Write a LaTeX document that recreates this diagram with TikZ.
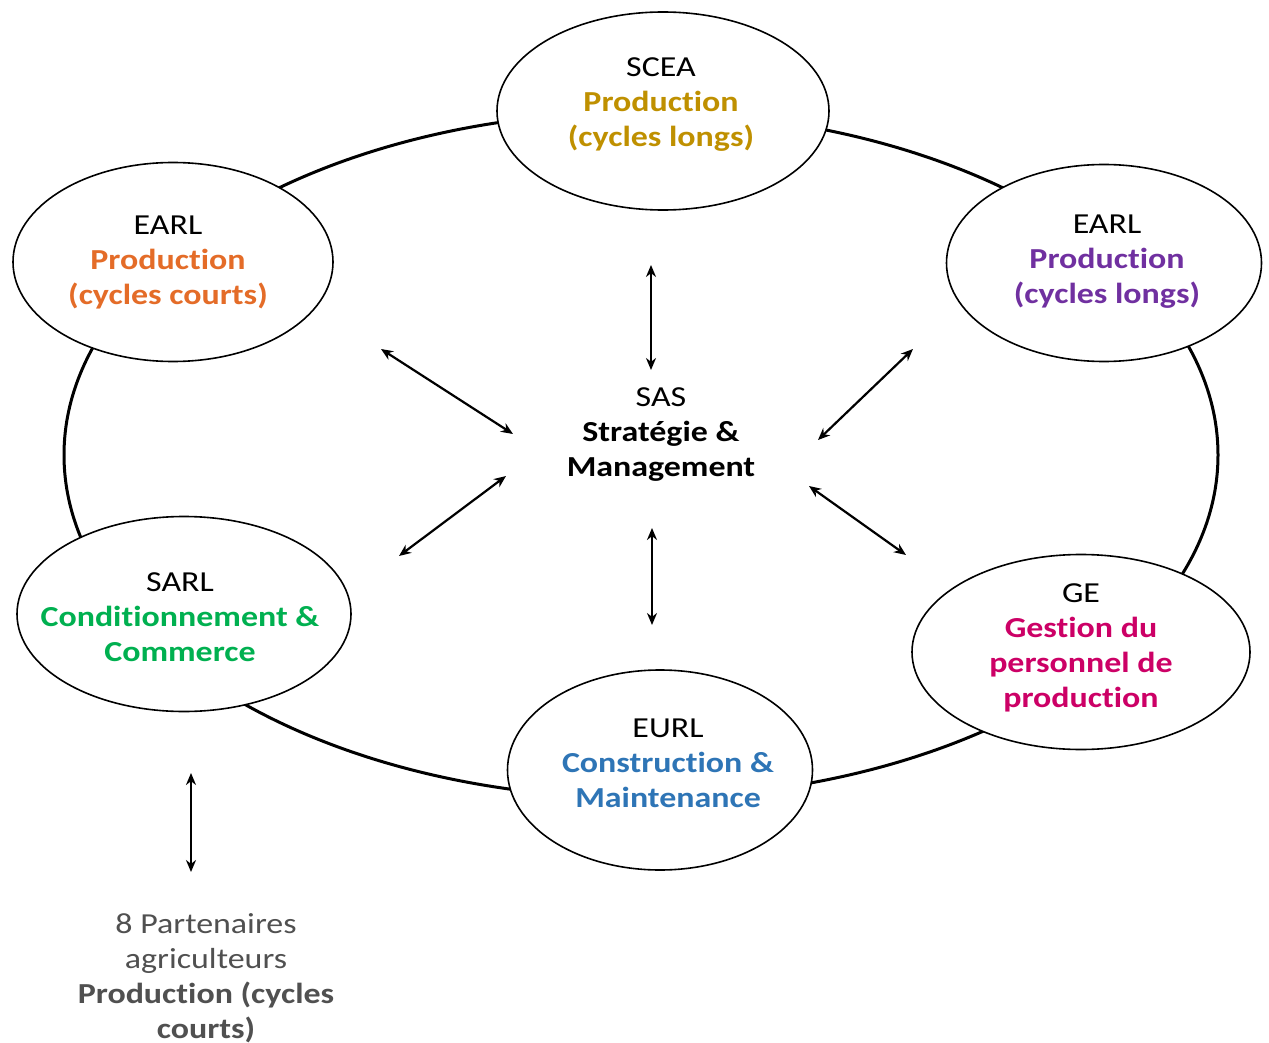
\documentclass[tikz,border=0pt]{standalone}
\usepackage{fontspec}
\setmainfont[Ligatures={NoCommon}]{Carlito}
\usetikzlibrary{shapes.geometric,arrows.meta}
\definecolor{cgold}{RGB}{191,144,0}
\definecolor{corange}{RGB}{228,108,40}
\definecolor{cpurple}{RGB}{112,48,160}
\definecolor{cgreen}{RGB}{0,176,80}
\definecolor{cblue}{RGB}{46,117,182}
\definecolor{cmag}{RGB}{204,0,102}
\definecolor{cgray}{RGB}{80,80,80}
\begin{document}
\begin{tikzpicture}[x=1pt,y=-1pt,
  ent/.style={ellipse,draw=black,line width=1.6pt,fill=white,inner sep=0pt},
  lbl/.style={align=center,font=\fontsize{29}{35}\selectfont,inner sep=0pt,xscale=1.17,transform shape},
  dbl/.style={line width=2.2pt,{Stealth[length=12pt,width=10pt]}-{Stealth[length=12pt,width=10pt]}}]
\useasboundingbox (0,0) rectangle (1269,1043);
\fill[white] (0,0) rectangle (1269,1043);
\node[ellipse,draw=black,line width=3pt,minimum width=1154pt,minimum height=686pt,inner sep=0pt] (ring) at (641,455) {};
\node[ent,minimum width=332pt,minimum height=198pt] (scea) at (663,111) {};
\node[ent,minimum width=320pt,minimum height=199pt] (earll) at (173,262) {};
\node[ent,minimum width=315pt,minimum height=197pt] (earlr) at (1104,263) {};
\node[ent,minimum width=334pt,minimum height=195pt] (sarl) at (184,614) {};
\node[ent,minimum width=305pt,minimum height=200pt] (eurl) at (660,770) {};
\node[ent,minimum width=338pt,minimum height=195pt] (ge) at (1081,652) {};
\node[lbl] (tscea) at (661,105) {SCEA\\\textcolor{cgold}{\textbf{Production}}\\\textcolor{cgold}{\textbf{(cycles longs)}}};
\node[lbl] (tearll) at (168,262) {EARL\\\textcolor{corange}{\textbf{Production}}\\\textcolor{corange}{\textbf{(cycles courts)}}};
\node[lbl] (tearlr) at (1107,262) {EARL\\\textcolor{cpurple}{\textbf{Production}}\\\textcolor{cpurple}{\textbf{(cycles longs)}}};
\node[lbl] (tsas) at (661,435) {SAS\\\textbf{Stratégie \&}\\\textbf{Management}};
\node[lbl] (tsarl) at (180,617) {SARL\\\textcolor{cgreen}{\textbf{Conditionnement \&}}\\\textcolor{cgreen}{\textbf{Commerce}}};
\node[lbl] (tge) at (1081,648) {GE\\\textcolor{cmag}{\textbf{Gestion du}}\\\textcolor{cmag}{\textbf{personnel de}}\\\textcolor{cmag}{\textbf{production}}};
\node[lbl] (teurl) at (668,763) {EURL\\\textcolor{cblue}{\textbf{Construction \&}}\\\textcolor{cblue}{\textbf{Maintenance}}};
\node[lbl,text=cgray] (tpart) at (206,978) {8 Partenaires\\agriculteurs\\\textbf{Production (cycles}\\\textbf{courts)}};
\coordinate (a1) at (651,265); \coordinate (b1) at (651,370);
\coordinate (a2) at (381,349); \coordinate (b2) at (513,434);
\coordinate (a3) at (913,349); \coordinate (b3) at (818,440);
\coordinate (a4) at (506,476); \coordinate (b4) at (399,556);
\coordinate (a5) at (809,486); \coordinate (b5) at (906,555);
\coordinate (a6) at (652,528); \coordinate (b6) at (652,625);
\coordinate (a7) at (191,773); \coordinate (b7) at (191,872);
\foreach \i in {1,...,7} \draw[dbl] (a\i) -- (b\i);
\end{tikzpicture}
\end{document}
